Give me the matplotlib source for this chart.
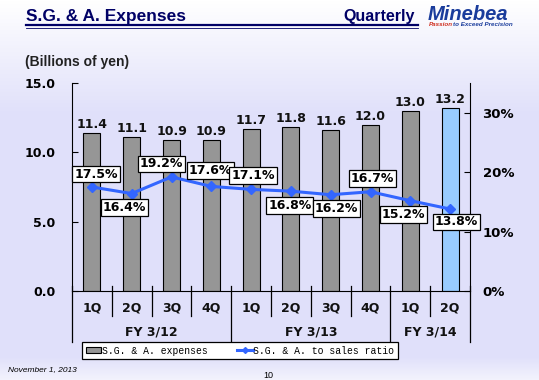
import numpy as np
import matplotlib.pyplot as plt
from matplotlib.patches import Patch
from matplotlib.lines import Line2D

plt.rcParams['font.family'] = ['DejaVu Sans']

#%% data
quarters = ['1Q', '2Q', '3Q', '4Q', '1Q', '2Q', '3Q', '4Q', '1Q', '2Q']
years = ['FY 3/12', 'FY 3/13', 'FY 3/14']
year_spans = [(0, 3), (4, 7), (8, 9)]
expenses = [11.4, 11.1, 10.9, 10.9, 11.7, 11.8, 11.6, 12.0, 13.0, 13.2]
ratio = [17.5, 16.4, 19.2, 17.6, 17.1, 16.8, 16.2, 16.7, 15.2, 13.8]
left_ticks = [0.0, 5.0, 10.0, 15.0]
right_ticks = [0, 10, 20, 30]

# label offsets (pixels) for the ratio boxes
lab_off = [(4, 13), (-7, -14), (-10, 13), (-1, 16), (2, 14),
           (-1, -14), (6, -14), (2, 13), (-7, -14), (6, -13)]

#%% figure + background
W, H = 539, 380
fig = plt.figure(figsize=(W / 100, H / 100), dpi=100)

bg = fig.add_axes([0, 0, 1, 1], zorder=-10)
yy = np.linspace(0, 1, H)
top = np.array([1.0, 1.0, 1.0])
lav = np.array([224, 224, 250]) / 255
k = np.clip(yy / 0.3, 0, 1)[:, None]
grad = top * (1 - k) + lav * k
bot = np.clip((yy - 0.94) / 0.06, 0, 1)[:, None]
grad = grad * (1 - bot * 0.6) + top * bot * 0.6
bg.imshow(grad[:, None, :].repeat(2, axis=1), aspect='auto', extent=[0, 1, 1, 0])
bg.set_xlim(0, 1)
bg.set_ylim(1, 0)
bg.axis('off')

# header
navy = '#000066'
fig.text(26 / W, 1 - 16 / H, 'S.G. & A. Expenses', fontsize=12.5, fontweight='bold',
         color=navy, va='center', family='Liberation Sans')
fig.text(415 / W, 1 - 16 / H, 'Quarterly', fontsize=11.5, fontweight='bold',
         color=navy, va='center', ha='right', family='Liberation Sans')
fig.add_artist(Line2D([26 / W, 418 / W], [1 - 24.5 / H] * 2, color=navy, lw=1.6))
fig.add_artist(Line2D([26 / W, 418 / W], [1 - 27.5 / H] * 2, color=navy, lw=0.6))
fig.text(428 / W, 1 - 14 / H, 'Minebea', fontsize=14.5, fontweight='heavy', style='italic',
         color='#1a3c9c', va='center', family='Liberation Sans')
fig.text(429 / W, 1 - 25 / H, 'Passion', fontsize=4.5, fontweight='bold', style='italic',
         color='#d03020', va='center', family='Liberation Sans')
fig.text(453 / W, 1 - 25 / H, 'to Exceed Precision', fontsize=4.5, fontweight='bold',
         style='italic', color='#1a3c9c', va='center', family='Liberation Sans')

fig.text(25 / W, 1 - 62 / H, '(Billions of yen)', fontsize=10, fontweight='bold',
         color='#222222', va='center', family='Liberation Sans')

#%% main axes
ax = fig.add_axes([72 / W, 1 - 291 / H, (470 - 72) / W, 208 / H])
ax.patch.set_alpha(0)
x = np.arange(len(expenses))
colors = ['#969696'] * (len(expenses) - 1) + ['#99ccff']
bars = ax.bar(x, expenses, width=0.43, color=colors, edgecolor='black', lw=0.8, zorder=2)
for xi, v in zip(x, expenses):
    ax.annotate(f'{v:.1f}', (xi, v), xytext=(0, 2), textcoords='offset pixels',
                ha='center', va='bottom', fontsize=9, fontweight='bold', color='#111111')

ax.set_xlim(-0.5, len(expenses) - 0.5)
ax.set_ylim(0, 15)
ax.set_yticks(left_ticks)
ax.set_yticklabels([f'{t:.1f}' for t in left_ticks], fontsize=9, fontweight='bold')
ax.tick_params(axis='y', direction='in', length=4, pad=12)
ax.set_xticks([])
ax.spines['top'].set_visible(False)
ax.spines['right'].set_visible(False)

# category rows
tr = ax.get_xaxis_transform()
for xi, q in zip(x, quarters):
    ax.text(xi, -0.082, q, transform=tr, ha='center', va='center',
            fontsize=9, fontweight='bold', color='#111111')
for (a, b), name in zip(year_spans, years):
    ax.text((a + b) / 2, -0.197, name, transform=tr, ha='center', va='center',
            fontsize=9, fontweight='bold', color='#111111')
bounds = {-0.5, len(expenses) - 0.5} | {b + 0.5 for a, b in year_spans}
for s in np.arange(-0.5, len(expenses), 1.0):
    y0 = -0.245 if s in bounds else -0.12
    ax.plot([s, s], [0.024, y0], transform=tr, color='black', lw=0.9, clip_on=False)

#%% ratio axis
ax2 = ax.twinx()
ax2.set_ylim(0, 35)
ax2.set_yticks(right_ticks)
ax2.set_yticklabels([f'{t}%' for t in right_ticks], fontsize=9.5, fontweight='bold')
ax2.tick_params(axis='y', direction='in', length=4, pad=9)
ax2.spines['top'].set_visible(False)
ax2.spines['left'].set_visible(False)
ax2.spines['bottom'].set_visible(False)
ax2.plot(x, ratio, color='#3366ff', lw=2.2, marker='D', ms=5, zorder=3)
for xi, v, (dx, dy) in zip(x, ratio, lab_off):
    ax2.annotate(f'{v:.1f}%', (xi, v), xytext=(dx, dy), textcoords='offset pixels',
                 ha='center', va='center', fontsize=9, fontweight='bold', color='black',
                 bbox=dict(boxstyle='square,pad=0.15', fc='white', ec='black', lw=0.9),
                 zorder=4)

#%% legend
handles = [Patch(facecolor='#969696', edgecolor='black', lw=0.8),
           Line2D([], [], color='#3366ff', lw=2.2, marker='D', ms=3)]
leg = fig.legend(handles, ['S.G. & A. expenses', 'S.G. & A. to sales ratio'],
                 loc='center', bbox_to_anchor=(240 / W, 1 - 350.5 / H), ncol=2,
                 prop={'family': 'Liberation Mono', 'size': 7}, fancybox=False,
                 edgecolor='black', framealpha=1, facecolor='white',
                 handlelength=1.6, handleheight=0.6, handletextpad=0.1,
                 columnspacing=3.0, borderpad=0.35, borderaxespad=0)
leg.get_frame().set_linewidth(0.9)

# footer
fig.text(8 / W, 1 - 370 / H, 'November 1, 2013', fontsize=6, style='italic',
         va='center', family='Liberation Sans')
fig.text(268 / W, 1 - 375 / H, '10', fontsize=6.5, va='center', ha='center',
         family='Liberation Sans')

fig.savefig('out.png', dpi=100)
